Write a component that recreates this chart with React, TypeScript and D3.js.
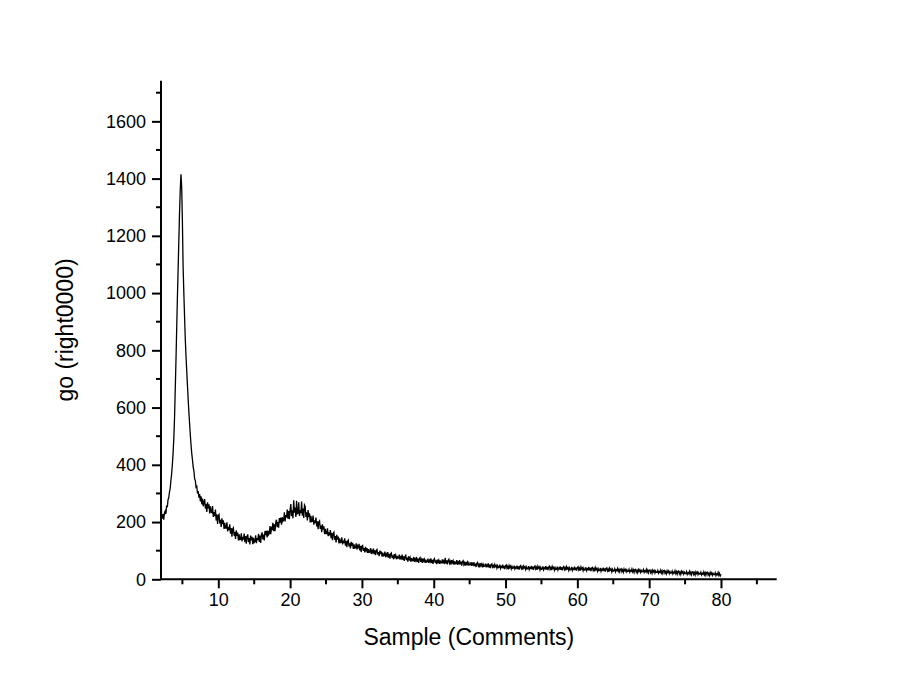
import React, { useEffect, useRef } from "react";
import * as d3 from "d3";

// Measured intensity, x from 2.0 to 80.0 in steps of 0.1
const xStart = 2.0;
const xStep = 0.1;
const intensity = [
  // 2.0 - 8.0
  350, 225, 212, 228, 208, 232, 238, 228, 258, 252,
  278, 285, 305, 318, 345, 368, 400, 440, 490, 560,
  660, 760, 870, 980, 1080, 1180, 1280, 1360, 1415, 1370,
  1250, 1090, 1000, 920, 840, 780, 730, 680, 630, 585,
  545, 505, 470, 440, 418, 392, 380, 352, 345, 322,
  325, 300, 308, 285, 298, 272, 290, 262, 282, 255,
  270,
  // 8.1 - 80.0
  280, 247, 263, 235, 269, 248, 262, 230, 255, 235,
  233, 256, 218, 235, 221, 244, 206, 227, 193, 222,
  226, 195, 208, 183, 213, 193, 206, 176, 197, 179,
  179, 199, 167, 183, 172, 192, 159, 179, 149, 176,
  180, 152, 165, 141, 171, 152, 163, 136, 157, 139,
  140, 161, 132, 148, 139, 160, 130, 151, 124, 150,
  157, 130, 144, 122, 153, 136, 148, 123, 145, 129,
  132, 154, 126, 144, 137, 159, 131, 153, 127, 155,
  164, 139, 156, 136, 169, 154, 169, 146, 170, 156,
  160, 186, 158, 178, 172, 197, 168, 192, 168, 199,
  208, 182, 200, 180, 214, 198, 216, 191, 217, 203,
  206, 234, 202, 224, 216, 244, 212, 238, 210, 244,
  263, 221, 241, 213, 276, 233, 251, 218, 274, 229,
  231, 269, 221, 242, 231, 272, 222, 247, 214, 260,
  255, 218, 234, 206, 242, 217, 231, 199, 222, 202,
  203, 223, 191, 206, 196, 216, 185, 203, 175, 200,
  204, 176, 188, 165, 192, 174, 185, 158, 176, 160,
  160, 178, 151, 164, 154, 172, 144, 162, 137, 159,
  164, 138, 151, 129, 155, 139, 149, 125, 143, 128,
  129, 147, 122, 135, 127, 143, 118, 134, 112, 133,
  137, 115, 126, 108, 131, 117, 127, 106, 122, 109,
  110, 126, 104, 116, 108, 124, 101, 117, 96, 116,
  118, 99, 109, 94, 113, 101, 109, 92, 105, 94,
  95, 109, 89, 100, 94, 107, 88, 101, 84, 101,
  104, 86, 95, 81, 100, 88, 97, 79, 93, 82,
  83, 97, 77, 88, 82, 95, 76, 89, 72, 89,
  92, 75, 84, 70, 88, 78, 85, 70, 82, 73,
  74, 86, 69, 78, 73, 86, 68, 80, 64, 80,
  84, 67, 76, 62, 80, 70, 77, 62, 74, 65,
  66, 78, 61, 71, 65, 78, 61, 72, 57, 73,
  76, 61, 69, 57, 73, 64, 70, 57, 69, 60,
  61, 72, 57, 66, 61, 73, 57, 68, 54, 68,
  72, 58, 66, 53, 69, 60, 67, 54, 66, 57,
  58, 70, 55, 64, 58, 75, 55, 66, 52, 66,
  70, 56, 63, 51, 67, 58, 65, 51, 63, 54,
  55, 67, 51, 60, 55, 67, 52, 62, 48, 62,
  65, 51, 58, 48, 61, 53, 60, 48, 57, 50,
  51, 60, 47, 55, 50, 60, 46, 55, 43, 56,
  59, 46, 52, 42, 56, 48, 54, 42, 52, 45,
  46, 55, 42, 50, 46, 56, 41, 51, 39, 52,
  54, 43, 48, 39, 52, 45, 49, 39, 48, 41,
  42, 51, 38, 45, 42, 51, 38, 47, 36, 47,
  50, 39, 45, 35, 48, 41, 46, 36, 45, 38,
  39, 48, 36, 42, 39, 48, 36, 45, 34, 45,
  48, 37, 43, 34, 46, 40, 44, 34, 43, 36,
  37, 46, 34, 41, 38, 47, 35, 44, 33, 44,
  47, 36, 42, 33, 46, 39, 43, 33, 42, 35,
  36, 45, 33, 40, 37, 46, 34, 43, 32, 43,
  46, 35, 41, 32, 45, 38, 42, 32, 41, 34,
  35, 44, 32, 39, 36, 45, 33, 42, 31, 42,
  45, 34, 40, 31, 44, 37, 41, 31, 40, 33,
  34, 43, 31, 38, 35, 44, 32, 41, 30, 41,
  44, 33, 39, 30, 43, 36, 40, 30, 39, 32,
  33, 42, 30, 37, 34, 43, 31, 40, 29, 40,
  42, 31, 37, 28, 41, 34, 38, 28, 37, 30,
  31, 40, 28, 35, 32, 41, 29, 38, 27, 38,
  40, 29, 35, 26, 39, 32, 36, 26, 35, 28,
  30, 37, 26, 33, 30, 38, 28, 35, 26, 35,
  37, 27, 33, 25, 36, 30, 34, 26, 33, 27,
  28, 35, 25, 31, 28, 36, 26, 33, 24, 34,
  35, 25, 31, 23, 34, 28, 33, 24, 31, 26,
  27, 34, 24, 30, 27, 35, 25, 32, 23, 32,
  33, 23, 29, 21, 32, 26, 31, 22, 29, 24,
  24, 31, 21, 27, 24, 32, 22, 29, 20, 30,
  31, 21, 27, 19, 30, 24, 29, 20, 27, 22,
  22, 29, 19, 25, 22, 30, 20, 27, 18, 28,
  29, 19, 25, 17, 28, 22, 27, 18, 25, 20,
  20, 27, 17, 23, 20, 28, 18, 25, 16, 26,
  27, 17, 23, 15, 26, 20, 25, 16, 23, 18,
  18, 25, 15, 21, 18, 26, 16, 23, 14, 24,
  25, 15, 21, 13, 24, 18, 23, 14, 21, 16,
  16, 23, 13, 19, 16, 24, 14, 21, 12, 18,
];

const xDomain = [2.02, 87.76];
const yDomain = [0, 1742];
const xMajorTicks = [10, 20, 30, 40, 50, 60, 70, 80];
const xMinorTicks = [5, 15, 25, 35, 45, 55, 65, 75, 85];
const yMajorTicks = [0, 200, 400, 600, 800, 1000, 1200, 1400, 1600];
const yMinorTicks = [100, 300, 500, 700, 900, 1100, 1300, 1500, 1700];
const xTitle = "Sample (Comments)";
const yTitle = "go (right0000)";

export default function App() {
  const ref = useRef<SVGSVGElement>(null);

  useEffect(() => {
    const svg = d3.select(ref.current);
    svg.selectAll("*").remove();

    const left = 161, right = 776.7, top = 80.7, bottom = 579.3;
    const x = d3.scaleLinear().domain(xDomain).range([left, right]);
    const y = d3.scaleLinear().domain(yDomain).range([bottom, top]);

    const pts: [number, number][] = intensity.map((v, i) => [xStart + i * xStep, v]);

    const font = "'Liberation Sans', Arial, sans-serif";

    const line = d3
      .line<[number, number]>()
      .x((d) => x(d[0]))
      .y((d) => y(d[1]));

    svg
      .append("path")
      .attr("d", line(pts) as string)
      .attr("fill", "none")
      .attr("stroke", "#000")
      .attr("stroke-width", 1.3)
      .attr("stroke-linejoin", "miter");

    // x axis
    const xAxis = d3
      .axisBottom(x)
      .tickValues(xMajorTicks)
      .tickSize(9)
      .tickPadding(5)
      .tickFormat((d) => String(d));
    const gx = svg
      .append("g")
      .attr("transform", `translate(0,${bottom})`)
      .call(xAxis);
    gx.select(".domain").attr("stroke-width", 2).attr("d", `M${left},0H${right}`);
    gx.selectAll(".tick line").attr("stroke-width", 2);
    gx.selectAll(".tick text")
      .attr("font-family", font)
      .attr("font-size", 18)
      .attr("fill", "#000");
    svg
      .append("g")
      .attr("transform", `translate(0,${bottom})`)
      .selectAll("line")
      .data(xMinorTicks)
      .join("line")
      .attr("x1", (d) => x(d))
      .attr("x2", (d) => x(d))
      .attr("y1", 0)
      .attr("y2", 5)
      .attr("stroke", "#000")
      .attr("stroke-width", 2);

    // y axis
    const yAxis = d3
      .axisLeft(y)
      .tickValues(yMajorTicks)
      .tickSize(9)
      .tickPadding(6)
      .tickFormat((d) => String(d));
    const gy = svg
      .append("g")
      .attr("transform", `translate(${left},0)`)
      .call(yAxis);
    gy.select(".domain").attr("stroke-width", 2).attr("d", `M0,${bottom}V${top}`);
    gy.selectAll(".tick line").attr("stroke-width", 2);
    gy.selectAll(".tick text")
      .attr("font-family", font)
      .attr("font-size", 18)
      .attr("fill", "#000");
    svg
      .append("g")
      .attr("transform", `translate(${left},0)`)
      .selectAll("line")
      .data(yMinorTicks)
      .join("line")
      .attr("x1", 0)
      .attr("x2", -5)
      .attr("y1", (d) => y(d))
      .attr("y2", (d) => y(d))
      .attr("stroke", "#000")
      .attr("stroke-width", 2);

    // titles
    svg
      .append("text")
      .attr("x", (left + right) / 2)
      .attr("y", 645)
      .attr("text-anchor", "middle")
      .attr("font-family", font)
      .attr("font-size", 23)
      .attr("fill", "#000")
      .text(xTitle);

    svg
      .append("text")
      .attr("transform", `translate(73,${(top + bottom) / 2}) rotate(-90)`)
      .attr("text-anchor", "middle")
      .attr("font-family", font)
      .attr("font-size", 23)
      .attr("fill", "#000")
      .text(yTitle);
  }, []);

  return (
    <svg
      ref={ref}
      width={900}
      height={695}
      style={{ position: "absolute", left: 0, top: 0, background: "#fff" }}
    />
  );
}
